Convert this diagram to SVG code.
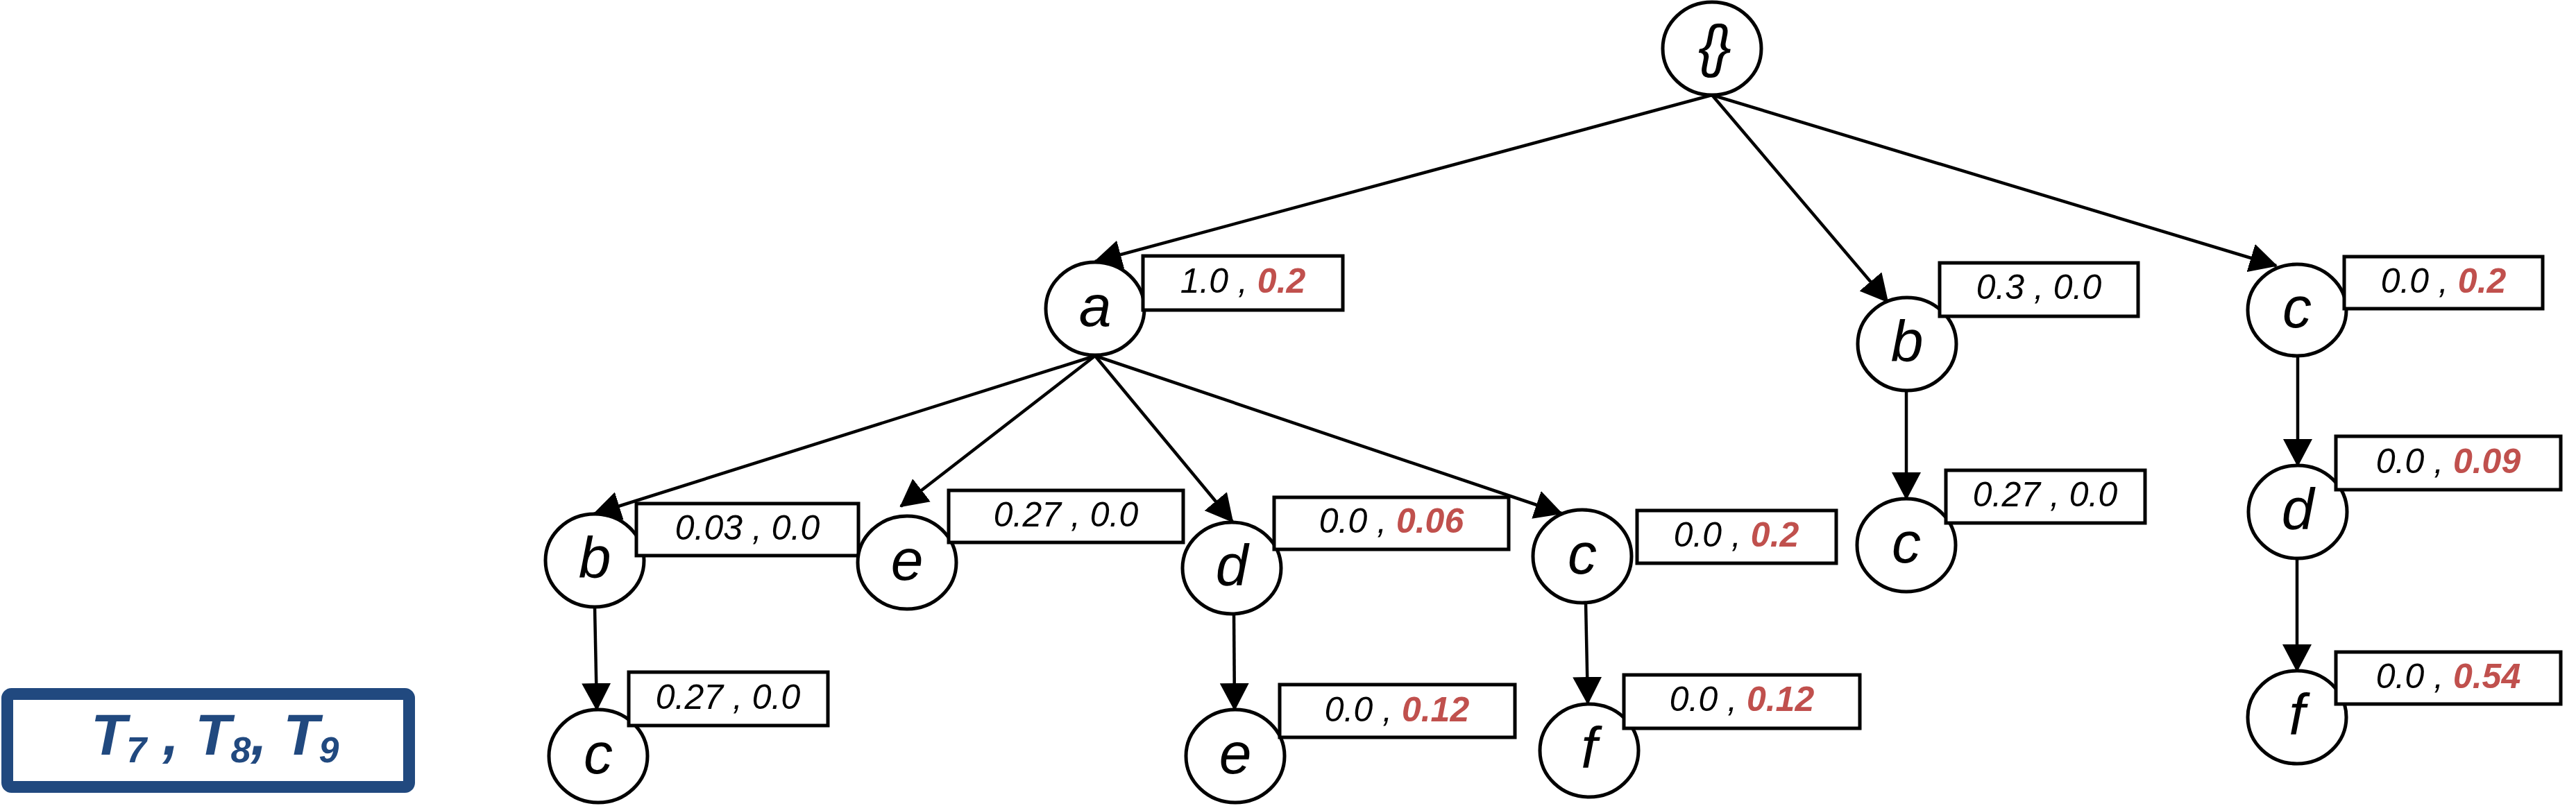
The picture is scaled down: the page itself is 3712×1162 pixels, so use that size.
<svg xmlns="http://www.w3.org/2000/svg" width="3712" height="1162" viewBox="0 0 3712 1162">
<defs>
<style>
.node ellipse{fill:#fff;stroke:#000;stroke-width:5}
.node rect{fill:#fff;stroke:#000;stroke-width:5}
.lbl{font-family:"Liberation Sans",Arial,sans-serif;font-style:italic;font-size:84px;text-anchor:middle;fill:#000}
.val{font-family:"Liberation Sans",Arial,sans-serif;font-style:italic;font-size:50px;text-anchor:middle;fill:#000}
.red{fill:#C0504D;font-weight:bold}
.edges line{stroke:#000;stroke-width:4.5;fill:none;marker-end:url(#arr)}
.legend rect{fill:#fff;stroke:#21497F;stroke-width:17}
.legend text{font-family:"Liberation Sans",Arial,sans-serif;font-style:italic;font-weight:bold;fill:#21497F;font-size:84px}
</style>
<marker id="arr" markerUnits="userSpaceOnUse" viewBox="0 0 40 42" markerWidth="40" markerHeight="42" refX="38" refY="21" orient="auto">
<path d="M0,0 L40,21 L0,42 z" fill="#000"/>
</marker>
</defs>
<rect width="3712" height="1162" fill="#fff"/>

<g id="root" class="node">
<ellipse cx="2467" cy="70" rx="71" ry="67"/>
<text class="lbl" x="2467" y="95" letter-spacing="-8">{}</text>
</g>

<g id="n_a" class="node">
<ellipse cx="1578" cy="445" rx="71" ry="67"/>
<text class="lbl" x="1578" y="470">a</text>
<rect x="1647" y="369" width="288" height="78"/>
<text class="val" x="1791" y="422">1.0 , <tspan class="red">0.2</tspan></text>
</g>

<g id="n_b1" class="node">
<ellipse cx="2748" cy="496" rx="71" ry="67"/>
<text class="lbl" x="2748" y="521">b</text>
<rect x="2795" y="379" width="286" height="77"/>
<text class="val" x="2938" y="431">0.3 , 0.0</text>
</g>

<g id="n_c1" class="node">
<ellipse cx="3310" cy="447" rx="71" ry="66"/>
<text class="lbl" x="3310" y="472">c</text>
<rect x="3378" y="370" width="286" height="75"/>
<text class="val" x="3521" y="422">0.0 , <tspan class="red">0.2</tspan></text>
</g>

<g id="n_ab" class="node">
<ellipse cx="857" cy="808" rx="71" ry="67"/>
<text class="lbl" x="857" y="833">b</text>
<rect x="917" y="726" width="320" height="75"/>
<text class="val" x="1077" y="778">0.03 , 0.0</text>
</g>

<g id="n_ae" class="node">
<ellipse cx="1307" cy="811" rx="71" ry="67"/>
<text class="lbl" x="1307" y="836">e</text>
<rect x="1367" y="707" width="338" height="75"/>
<text class="val" x="1536" y="759">0.27 , 0.0</text>
</g>

<g id="n_ad" class="node">
<ellipse cx="1775" cy="819" rx="71" ry="66"/>
<text class="lbl" x="1775" y="844">d</text>
<rect x="1836" y="717" width="338" height="75"/>
<text class="val" x="2005" y="768">0.0 , <tspan class="red">0.06</tspan></text>
</g>

<g id="n_ac" class="node">
<ellipse cx="2280" cy="802" rx="71" ry="67"/>
<text class="lbl" x="2280" y="827">c</text>
<rect x="2359" y="736" width="287" height="76"/>
<text class="val" x="2502" y="788">0.0 , <tspan class="red">0.2</tspan></text>
</g>

<g id="n_b1c" class="node">
<ellipse cx="2747" cy="786" rx="71" ry="67"/>
<text class="lbl" x="2747" y="811">c</text>
<rect x="2804" y="678" width="287" height="76"/>
<text class="val" x="2947" y="730">0.27 , 0.0</text>
</g>

<g id="n_c1d" class="node">
<ellipse cx="3311" cy="738" rx="71" ry="67"/>
<text class="lbl" x="3311" y="763">d</text>
<rect x="3366" y="629" width="324" height="77"/>
<text class="val" x="3528" y="682">0.0 , <tspan class="red">0.09</tspan></text>
</g>

<g id="n_c1df" class="node">
<ellipse cx="3310" cy="1034" rx="71" ry="67"/>
<text class="lbl" x="3310" y="1059">f</text>
<rect x="3366" y="940" width="324" height="75"/>
<text class="val" x="3528" y="992">0.0 , <tspan class="red">0.54</tspan></text>
</g>

<g id="n_abc" class="node">
<ellipse cx="862" cy="1090" rx="71" ry="67"/>
<text class="lbl" x="862" y="1115">c</text>
<rect x="906" y="969" width="287" height="77"/>
<text class="val" x="1049" y="1022">0.27 , 0.0</text>
</g>

<g id="n_ade" class="node">
<ellipse cx="1780" cy="1090" rx="71" ry="67"/>
<text class="lbl" x="1780" y="1115">e</text>
<rect x="1844" y="987" width="339" height="76"/>
<text class="val" x="2013" y="1040">0.0 , <tspan class="red">0.12</tspan></text>
</g>

<g id="n_acf" class="node">
<ellipse cx="2290" cy="1082" rx="71" ry="67"/>
<text class="lbl" x="2290" y="1107">f</text>
<rect x="2340" y="973" width="340" height="77"/>
<text class="val" x="2510" y="1025">0.0 , <tspan class="red">0.12</tspan></text>
</g>

<g id="edges" class="edges">
<line x1="2467" y1="137" x2="1578" y2="377"/>
<line x1="2467" y1="137" x2="2720" y2="435"/>
<line x1="2467" y1="137" x2="3280" y2="383"/>
<line x1="1578" y1="513" x2="856" y2="741"/>
<line x1="1578" y1="513" x2="1298" y2="730"/>
<line x1="1578" y1="513" x2="1776" y2="752"/>
<line x1="1578" y1="513" x2="2250" y2="740"/>
<line x1="857" y1="875" x2="860" y2="1023"/>
<line x1="1778" y1="885" x2="1779" y2="1023"/>
<line x1="2285" y1="868" x2="2288" y2="1014"/>
<line x1="2747" y1="563" x2="2747" y2="719"/>
<line x1="3311" y1="513" x2="3311" y2="671"/>
<line x1="3310" y1="805" x2="3310" y2="967"/>
</g>

<g id="legend" class="legend">
<rect x="10.5" y="1000.5" width="579" height="134" rx="6"/>
<text x="131" y="1088">T<tspan font-size="52" dy="11">7</tspan><tspan dy="-11"> , T</tspan><tspan font-size="52" dy="11">8</tspan><tspan dy="-11">, T</tspan><tspan font-size="52" dy="11">9</tspan></text>
</g>
</svg>
